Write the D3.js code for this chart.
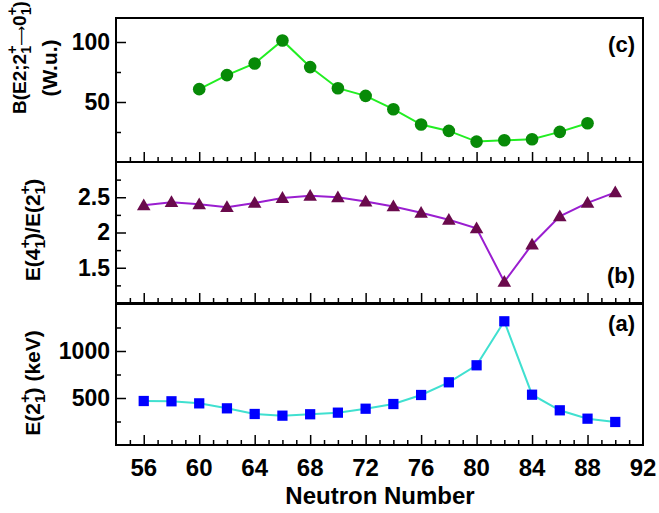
<!DOCTYPE html>
<html>
<head>
<meta charset="utf-8">
<script src="https://cdn.jsdelivr.net/npm/d3@7"></script>
<style>
  html, body { margin: 0; padding: 0; background: #fff; }
  svg { display: block; }
  text { font-family: "Liberation Sans", Arial, Helvetica, sans-serif; font-weight: bold; }
</style>
</head>
<body>
<svg id="chart" width="659" height="513"></svg>
<script>
// ---- data ----
const nBE2 = [60, 62, 64, 66, 68, 70, 72, 74, 76, 78, 80, 82, 84, 86, 88];
const valBE2 = [60.7, 72.4, 82.1, 101.3, 79.1, 61.5, 55.1, 44.0, 31.2, 25.9, 17.0, 18.1, 19.0, 25.1, 32.3];

const nRatio = [56, 58, 60, 62, 64, 66, 68, 70, 72, 74, 76, 78, 80, 82, 84, 86, 88, 90];
const valRatio = [2.385, 2.43, 2.40, 2.36, 2.42, 2.49, 2.52, 2.50, 2.44, 2.37, 2.28, 2.18, 2.06, 1.30, 1.83, 2.23, 2.42, 2.57];

const nE2 = [56, 58, 60, 62, 64, 66, 68, 70, 72, 74, 76, 78, 80, 82, 84, 86, 88, 90];
const valE2 = [468, 465, 443, 390, 330, 312, 327, 344, 386, 436, 532, 667, 848, 1316, 535, 369, 280, 245];

const xTicks = [56, 60, 64, 68, 72, 76, 80, 84, 88, 92];
const yTicksC = [50, 100], yMinorC = [25, 75];
const yTicksB = [1.5, 2, 2.5], yMinorB = [1.25, 1.75, 2.25, 2.75];
const yTicksA = [500, 1000], yMinorA = [250, 750, 1250];

// ---- layout ----
const svg = d3.select("#chart");
const L = 116, R = 643;
const x = d3.scaleLinear().domain([54, 92]).range([L, R]);
const xMinor = d3.range(55, 92, 1);

const panels = [
  { key: "c", top: 18, bottom: 162, domain: [0, 120], major: yTicksC, minor: yMinorC,
    xs: nBE2, ys: valBE2, line: "#22ee22", mark: "#078a07", shape: "circle", tag: "(c)", tagY: 52 },
  { key: "b", top: 162, bottom: 303, domain: [1, 3], major: yTicksB, minor: yMinorB,
    xs: nRatio, ys: valRatio, line: "#9a1ed0", mark: "#6a0a4c", shape: "triangle", tag: "(b)", tagY: 283 },
  { key: "a", top: 304, bottom: 445, domain: [0, 1500], major: yTicksA, minor: yMinorA,
    xs: nE2, ys: valE2, line: "#40e0d0", mark: "#0000ff", shape: "square", tag: "(a)", tagY: 331 }
];

panels.forEach((p, i) => {
  const y = d3.scaleLinear().domain(p.domain).range([p.bottom, p.top]);
  const g = svg.append("g");

  const pts = p.xs.map((n, k) => [n, p.ys[k]]);
  g.append("path").datum(pts)
    .attr("fill", "none").attr("stroke", p.line).attr("stroke-width", 2)
    .attr("d", d3.line().x(d => x(d[0])).y(d => y(d[1])));

  if (p.shape === "circle") {
    g.selectAll("circle.m").data(pts).join("circle")
      .attr("cx", d => x(d[0])).attr("cy", d => y(d[1])).attr("r", 6.3)
      .attr("fill", p.mark);
  } else {
    const sym = d3.symbol().type(p.shape === "triangle" ? d3.symbolTriangle : d3.symbolSquare)
      .size(p.shape === "triangle" ? 80 : 105);
    g.selectAll("path.m").data(pts).join("path")
      .attr("transform", d => `translate(${x(d[0])},${y(d[1]) + (p.shape === "triangle" ? 1 : 0)})`)
      .attr("d", sym).attr("fill", p.mark);
  }

  const ya = g.append("g").attr("transform", `translate(${L},0)`)
    .call(d3.axisLeft(y).tickValues(p.major).tickSize(-10).tickPadding(6)
      .tickFormat(d => d3.format("")(d)));
  ya.select(".domain").remove();
  ya.selectAll("line").attr("stroke", "#000").attr("stroke-width", 1.5);
  ya.selectAll("text").attr("font-size", 23).attr("fill", "#000")
    .attr("font-family", "Liberation Sans, Arial, sans-serif").attr("font-weight", "bold");
  const ym = g.append("g").attr("transform", `translate(${L},0)`)
    .call(d3.axisLeft(y).tickValues(p.minor).tickSize(-5).tickFormat(""));
  ym.select(".domain").remove();
  ym.selectAll("line").attr("stroke", "#000").attr("stroke-width", 1.5);

  const xa = g.append("g").attr("transform", `translate(0,${p.bottom})`)
    .call(d3.axisBottom(x).tickValues(xTicks.filter(t => t < 92)).tickSize(-10).tickFormat(""));
  xa.select(".domain").remove();
  xa.selectAll("line").attr("stroke", "#000").attr("stroke-width", 1.5);
  const xm = g.append("g").attr("transform", `translate(0,${p.bottom})`)
    .call(d3.axisBottom(x).tickValues(xMinor.filter(t => (t - 56) % 4 !== 0)).tickSize(-5).tickFormat(""));
  xm.select(".domain").remove();
  xm.selectAll("line").attr("stroke", "#000").attr("stroke-width", 1.5);

  g.append("rect").attr("x", L).attr("y", p.top).attr("width", R - L).attr("height", p.bottom - p.top)
    .attr("fill", "none").attr("stroke", "#000").attr("stroke-width", 2);

  g.append("text").attr("x", 635).attr("y", p.tagY).attr("text-anchor", "end")
    .attr("font-size", 22).attr("fill", "#000").text(p.tag);
});

// x tick labels (bottom)
svg.append("g").selectAll("text").data(xTicks).join("text")
  .attr("x", d => x(d)).attr("y", 476).attr("text-anchor", "middle")
  .attr("font-size", 24).attr("fill", "#000").text(d => d);

svg.append("text").attr("x", 380).attr("y", 504).attr("text-anchor", "middle")
  .attr("font-size", 24).attr("fill", "#000").text("Neutron Number");

// rotated y labels with stacked sup/subscripts
function richLabel(cx, cy, segs, fs, anchor) {
  const t = svg.append("text")
    .attr("transform", `translate(${cx},${cy}) rotate(-90)`)
    .attr("text-anchor", anchor || "middle").attr("font-size", fs).attr("fill", "#000");
  const sfs = fs * 0.74;
  const up = fs * 0.45, down = fs * 0.7;
  let shifted = false;
  segs.forEach(s => {
    if (typeof s === "string") {
      const ts = t.append("tspan").text(s);
      if (shifted) { ts.attr("dy", -(down - up)); shifted = false; }
    } else if (s.arrow) {
      const ts = t.append("tspan").attr("font-size", s.arrow)
        .attr("font-family", "DejaVu Sans, sans-serif").attr("font-weight", "normal").text("\u27F6");
      if (shifted) { ts.attr("dy", -(down - up)); shifted = false; }
    } else {
      t.append("tspan").attr("font-size", sfs).attr("dy", shifted ? -down : -up).text("+");
      t.append("tspan").attr("font-size", sfs).attr("dx", -sfs * 0.584).attr("dy", down).text("1");
      shifted = true;
    }
  });
  return t;
}
const SS = { s: 1 };
richLabel(26, 114, ["B(E2;2", SS, { arrow: 14 }, "0", SS, ")"], 19, "start");
richLabel(57, 68, ["(W.u.)"], 21);
richLabel(39.5, 230, ["E(4", SS, ")/E(2", SS, ")"], 21);
richLabel(39.5, 383, ["E(2", SS, ") (keV)"], 21);
</script>
</body>
</html>
